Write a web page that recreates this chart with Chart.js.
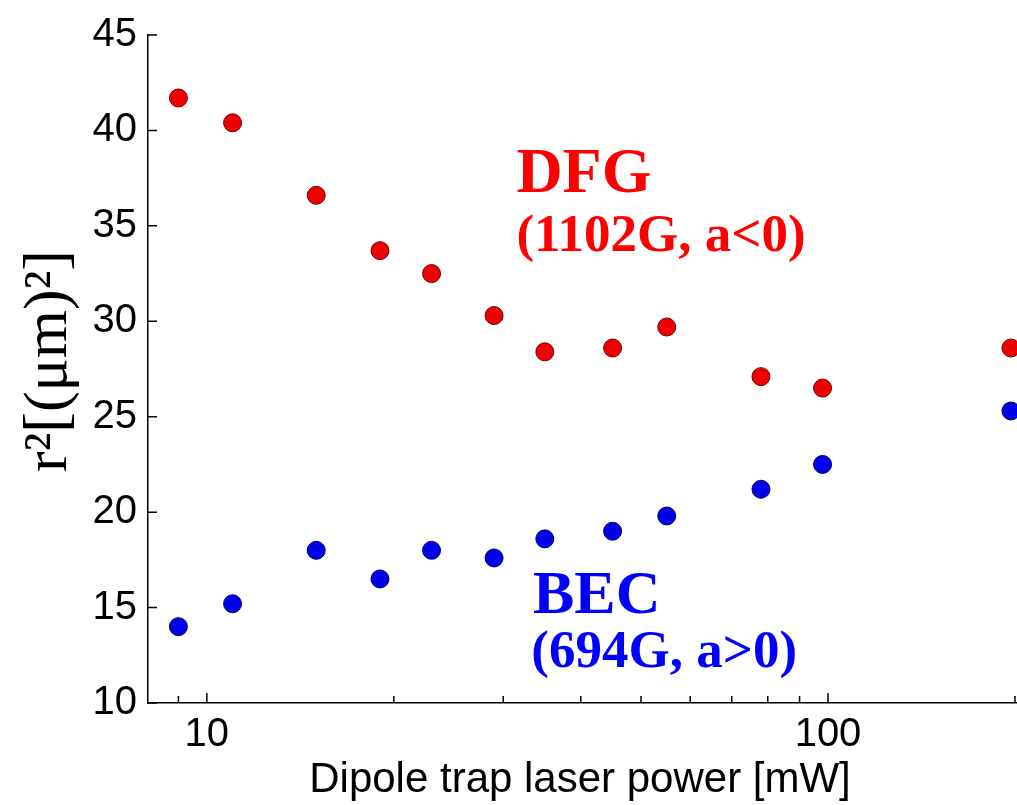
<!DOCTYPE html>
<html>
<head>
<meta charset="utf-8">
<script src="https://cdn.jsdelivr.net/npm/chart.js@4"></script>
<style>
  html, body { margin: 0; padding: 0; background: #fff; }
  canvas { display: block; }
</style>
</head>
<body>
<canvas id="chart" width="1017" height="805"></canvas>
<script>
// laser power [mW]
const power = [9, 11, 15, 19, 23, 29, 35, 45, 55, 78, 98, 197];
// r^2 in um^2
const dfg = [41.7, 40.4, 36.6, 33.7, 32.5, 30.3, 28.4, 28.6, 29.7, 27.1, 26.5, 28.6];
const bec = [14.0, 15.2, 18.0, 16.5, 18.0, 17.6, 18.6, 19.0, 19.8, 21.2, 22.5, 25.3];

const xTicks = [9, 10, 20, 30, 40, 50, 60, 70, 80, 90, 100, 200];
const xLabeled = [10, 100];
const yTicks = [10, 15, 20, 25, 30, 35, 40, 45];

// text labels placed in data coordinates
const notes = [
  { text: "DFG", x: 31.5, y: 36.8, size: 64, color: "#ff0000" },
  { text: "(1102G, a<0)", x: 31.5, y: 33.7, size: 53, color: "#ff0000" },
  { text: "BEC", x: 33.5, y: 14.7, size: 62, color: "#0000ff" },
  { text: "(694G, a>0)", x: 33.3, y: 11.9, size: 53, color: "#0000ff" },
];

const sans = "'Liberation Sans', Arial, sans-serif";
const serif = "'Liberation Serif', 'Times New Roman', serif";

const extras = {
  id: "extras",
  afterDraw(chart) {
    const ctx = chart.ctx;
    const xs = chart.scales.x, ys = chart.scales.y;
    const a = chart.chartArea;
    ctx.save();
    ctx.strokeStyle = "#000";
    ctx.lineWidth = 1.5;
    ctx.beginPath();
    yTicks.forEach(v => {
      const py = ys.getPixelForValue(v);
      ctx.moveTo(a.left, py);
      ctx.lineTo(a.left + 9, py);
    });
    xTicks.forEach(v => {
      const px = xs.getPixelForValue(v);
      const len = xLabeled.includes(v) ? 10 : 7;
      ctx.moveTo(px, a.bottom);
      ctx.lineTo(px, a.bottom - len);
    });
    ctx.stroke();

    // annotations
    ctx.textAlign = "left";
    ctx.textBaseline = "alphabetic";
    notes.forEach(n => {
      ctx.fillStyle = n.color;
      ctx.font = "bold " + n.size + "px " + serif;
      ctx.fillText(n.text, xs.getPixelForValue(n.x), ys.getPixelForValue(n.y));
    });

    // axis titles
    ctx.fillStyle = "#000";
    ctx.font = "42px " + sans;
    ctx.textAlign = "center";
    ctx.fillText("Dipole trap laser power [mW]", 580, 792);

    ctx.translate(50, 361);
    ctx.rotate(-Math.PI / 2);
    ctx.font = "62px " + serif;
    ctx.textBaseline = "middle";
    ctx.fillText("r\u00b2[(\u03bcm)\u00b2]", 0, 0);
    ctx.restore();
  }
};

new Chart(document.getElementById("chart").getContext("2d"), {
  type: "scatter",
  data: {
    datasets: [
      {
        label: "DFG",
        data: power.map((p, i) => ({ x: p, y: dfg[i] })),
        backgroundColor: "rgb(240, 0, 0)",
        borderColor: "rgb(110, 0, 0)",
        borderWidth: 1,
        pointRadius: 9,
        clip: false,
      },
      {
        label: "BEC",
        data: power.map((p, i) => ({ x: p, y: bec[i] })),
        backgroundColor: "rgb(0, 0, 235)",
        borderColor: "rgb(0, 0, 100)",
        borderWidth: 1,
        pointRadius: 9,
        clip: false,
      },
    ],
  },
  options: {
    responsive: false,
    animation: false,
    layout: { autoPadding: false, padding: { top: 34, right: 0, left: 0, bottom: 0 } },
    plugins: {
      legend: { display: false },
      tooltip: { enabled: false },
    },
    scales: {
      x: {
        type: "logarithmic",
        min: 8.04,
        max: 201.5,
        afterBuildTicks: s => { s.ticks = xTicks.map(v => ({ value: v })); },
        afterFit: s => { s.height = 102; s.paddingLeft = 0; s.paddingRight = 0; },
        grid: { display: false, drawTicks: false },
        border: { display: true, color: "#000", width: 1.5 },
        ticks: {
          autoSkip: false,
          maxRotation: 0,
          padding: 8,
          color: "#000",
          font: { family: sans, size: 40 },
          callback: v => (xLabeled.includes(v) ? String(v) : ""),
        },
      },
      y: {
        min: 10,
        max: 45,
        afterBuildTicks: s => { s.ticks = yTicks.map(v => ({ value: v })); },
        afterFit: s => { s.width = 148; },
        grid: { display: false, drawTicks: false },
        border: { display: true, color: "#000", width: 1.5 },
        ticks: {
          padding: 11,
          color: "#000",
          font: { family: sans, size: 40 },
        },
      },
    },
  },
  plugins: [extras],
});
</script>
</body>
</html>
